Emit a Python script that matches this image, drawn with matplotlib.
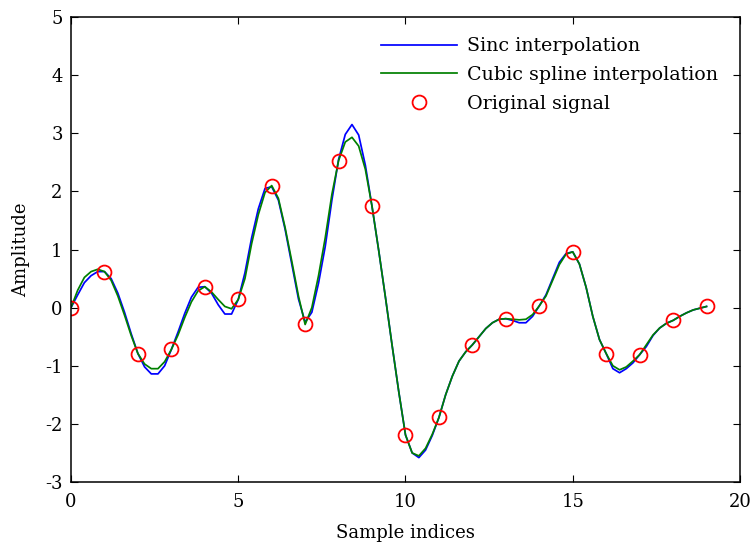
import numpy as np
import matplotlib
matplotlib.use("Agg")
import matplotlib.pyplot as plt

# original samples at integer indices
n = np.arange(20)
signal = [0, 0.62, -0.79, -0.72, 0.36, 0.14, 2.10, -0.29, 2.53, 1.74,
          -2.19, -1.89, -0.64, -0.19, 0.03, 0.96, -0.79, -0.81, -0.22, 0.02]

# fine grid, step 0.2
t = np.arange(96) / 5.0
sinc_vals = [0, 0.22, 0.43, 0.55, 0.62,
             0.62, 0.50, 0.25, -0.08, -0.45,
             -0.79, -1.02, -1.14, -1.14, -1.00,
             -0.72, -0.42, -0.10, 0.18, 0.35,
             0.36, 0.25, 0.05, -0.11, -0.11,
             0.14, 0.60, 1.20, 1.70, 2.05,
             2.08, 1.85, 1.35, 0.75, 0.15,
             -0.25, -0.08, 0.42, 1.05, 1.85,
             2.55, 2.98, 3.15, 2.97, 2.45,
             1.74, 0.98, 0.18, -0.65, -1.45,
             -2.19, -2.50, -2.58, -2.45, -2.20,
             -1.89, -1.50, -1.18, -0.92, -0.76,
             -0.64, -0.50, -0.36, -0.26, -0.20,
             -0.19, -0.22, -0.26, -0.26, -0.15,
             0.03, 0.22, 0.50, 0.78, 0.93,
             0.96, 0.75, 0.35, -0.15, -0.55,
             -0.79, -1.05, -1.12, -1.05, -0.95,
             -0.81, -0.67, -0.48, -0.35, -0.27,
             -0.22, -0.15, -0.09, -0.04, -0.01,
             0.02]
spline_vals = [0, 0.30, 0.52, 0.62, 0.66,
               0.62, 0.47, 0.20, -0.13, -0.48,
               -0.79, -0.97, -1.05, -1.05, -0.93,
               -0.72, -0.47, -0.17, 0.10, 0.29,
               0.36, 0.27, 0.14, 0.02, -0.02,
               0.14, 0.50, 1.10, 1.60, 1.98,
               2.10, 1.88, 1.38, 0.80, 0.20,
               -0.29, 0.00, 0.55, 1.20, 1.95,
               2.53, 2.85, 2.93, 2.78, 2.38,
               1.74, 0.98, 0.18, -0.65, -1.45,
               -2.19, -2.50, -2.55, -2.42, -2.18,
               -1.89, -1.50, -1.18, -0.92, -0.76,
               -0.64, -0.50, -0.36, -0.26, -0.20,
               -0.19, -0.20, -0.21, -0.20, -0.12,
               0.03, 0.20, 0.47, 0.74, 0.92,
               0.96, 0.75, 0.35, -0.15, -0.55,
               -0.79, -1.00, -1.07, -1.02, -0.92,
               -0.81, -0.64, -0.47, -0.35, -0.27,
               -0.22, -0.15, -0.09, -0.04, -0.01,
               0.02]

plt.rcParams['font.family'] = ['DejaVu Serif']
plt.rcParams['font.size'] = 13
plt.rcParams['axes.unicode_minus'] = False

fig = plt.figure(figsize=(7.53, 5.48), dpi=100)
ax = fig.add_axes([0.0943, 0.1204, 0.8884, 0.8486])

ax.plot(t, sinc_vals, color='#0000ff', lw=1.25, label='Sinc interpolation')
ax.plot(t, spline_vals, color='#008000', lw=1.25, label='Cubic spline interpolation')
ax.plot(n, signal, 'o', mfc='none', mec='#ff0000', mew=1.3, ms=10, label='Original signal')

ax.set_xlim(0, 20)
ax.set_ylim(-3, 5)
ax.set_xticks(np.arange(0, 21, 5))
ax.set_yticks(np.arange(-3, 6, 1))
ax.tick_params(direction='in', top=True, right=True, length=5, width=0.8)
ax.tick_params(axis='x', pad=8)
ax.tick_params(axis='y', pad=6)
for s in ax.spines.values():
    s.set_linewidth(1.1)
ax.set_xlabel('Sample indices', labelpad=9)
ax.set_ylabel('Amplitude', labelpad=11)

ax.legend(loc='upper right', frameon=False, handlelength=4.0, handletextpad=0.55,
          labelspacing=0.56, borderaxespad=0.6, fontsize=13.7,
          bbox_to_anchor=(0.996, 0.997))

fig.savefig('out.png', dpi=100)
